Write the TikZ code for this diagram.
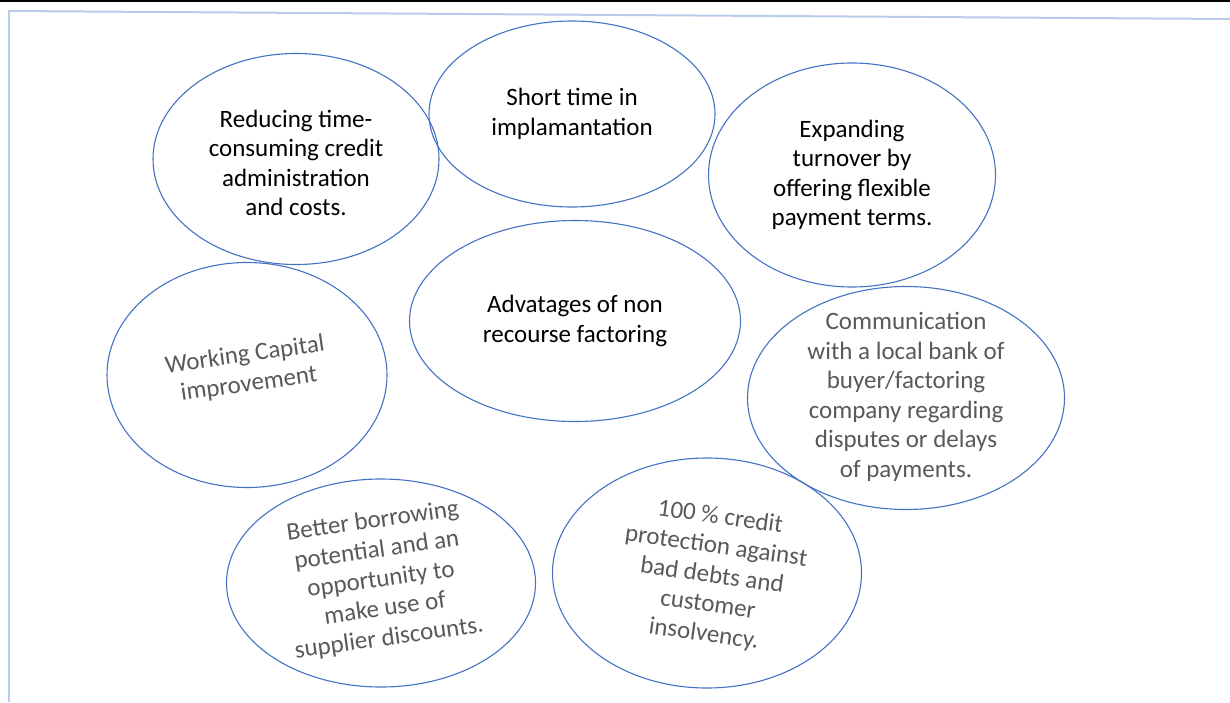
\documentclass[tikz,border=0pt]{standalone}
\usepackage{fontspec}
\setmainfont{Carlito}
\usetikzlibrary{shapes.geometric}
\definecolor{bubline}{HTML}{4472C4}
\definecolor{frameblue}{HTML}{B9CAEA}
\definecolor{softgray}{HTML}{595959}
\tikzset{
  bub/.style={draw=bubline, line width=1.1pt, ellipse, inner sep=0pt, outer sep=0pt},
  txt/.style={align=center, inner sep=0pt,
    font=\fontsize{25}{29.5}\selectfont},
  dark/.style={txt, text=black},
  grey/.style={txt, text=softgray},
}
\begin{document}
\begin{tikzpicture}[x=1pt, y=-1pt]
\useasboundingbox (0,0) rectangle (1230,702);
\fill[white] (0,0) rectangle (1230,702);

% page edge and frame
\coordinate (edgeL) at (0,0.8);
\coordinate (edgeR) at (1230,0.8);
\draw[black, line width=1.6pt] (edgeL) -- (edgeR);
\coordinate (frBL) at (9,702);
\coordinate (frTL) at (9,11);
\coordinate (frTR) at (1230,19);
\draw[frameblue, line width=2pt] (frBL) -- (frTL) -- (frTR);

% bubbles
\node[bub, minimum width=286pt, minimum height=211pt] (e1) at (296,159) {};
\node[bub, minimum width=286pt, minimum height=186pt] (e2) at (572,114) {};
\node[bub, minimum width=287pt, minimum height=224pt] (e3) at (852,175) {};
\node[bub, minimum width=280pt, minimum height=225pt] (e4) at (247,375) {};
\node[bub, minimum width=331pt, minimum height=201pt] (e5) at (575,321) {};
\node[bub, minimum width=317pt, minimum height=223pt] (e6) at (906,398) {};
\node[bub, minimum width=309pt, minimum height=208pt] (e7) at (381,583) {};
\node[bub, minimum width=309pt, minimum height=230pt] (e8) at (707,573) {};

% labels
\node[dark] (t1) at (296,163) {Reducing time-\\consuming credit\\administration\\and costs.};
\node[dark] (t2) at (572,114) {Short time in\\implamantation};
\node[dark] (t3) at (852,175) {Expanding\\turnover by\\offering flexible\\payment terms.};
\node[grey, rotate=8] (t4) at (247,370) {Working Capital\\improvement};
\node[dark] (t5) at (575,321) {Advatages of non\\recourse factoring};
\node[grey] (t6) at (906,397) {Communication\\with a local bank of\\buyer/factoring\\company regarding\\disputes or delays\\of payments.};
\node[grey, rotate=8] (t7) at (381,580) {Better borrowing\\potential and an\\opportunity to\\make use of\\supplier discounts.};
\node[grey, rotate=-8] (t8) at (712,576) {100 \% credit\\protection against\\bad debts and\\customer\\insolvency.};
\end{tikzpicture}
\end{document}
